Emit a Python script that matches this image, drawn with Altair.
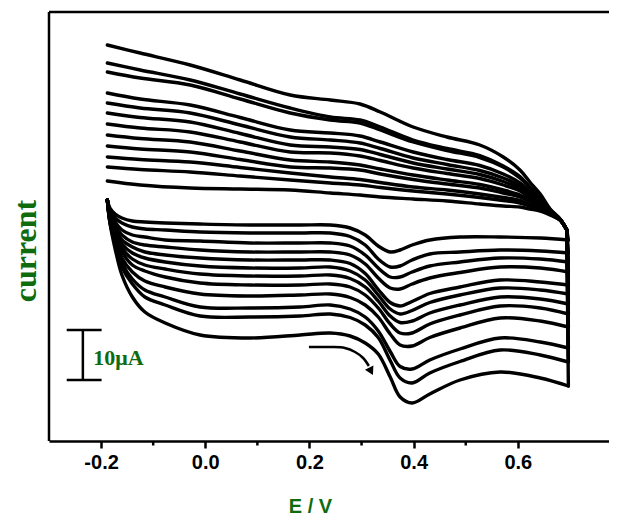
import altair as alt
import pandas as pd

# Potential grid (V) for the forward (lower) and reverse (upper) branches;
# the last two forward values are the end of the sweep and the switching vertex
E_FWD = [-0.188, -0.183, -0.173, -0.160, -0.140, -0.116, -0.077, -0.010, 0.086, 0.182,
         0.240, 0.278, 0.307, 0.332, 0.355, 0.374, 0.397, 0.431, 0.489, 0.566,
         0.643, 0.697, 0.694]
E_REV = [0.681, 0.662, 0.643, 0.623, 0.604, 0.572, 0.527, 0.464, 0.399, 0.336,
         0.297, 0.240, 0.163, 0.067, -0.029, -0.125, -0.188]

# Currents (uA, arbitrary offset) for each cycle, forward branch
c01_fwd = [-40.0, -41.6, -42.8, -43.6, -44.2, -44.4, -44.6, -44.8, -45.0, -45.0, -45.0, -45.6, -47.0, -49.2, -50.4, -50.0, -49.0, -48.0, -47.4, -47.4, -47.6, -48.0, -46.0]
c02_fwd = [-40.0, -42.0, -43.6, -44.6, -45.4, -45.8, -46.0, -46.4, -46.6, -46.6, -46.6, -47.3, -49.0, -51.8, -53.4, -53.2, -52.0, -50.8, -50.4, -50.0, -50.2, -50.6, -46.0]
c03_fwd = [-40.0, -42.4, -44.4, -46.0, -47.0, -47.4, -48.0, -48.2, -48.6, -48.6, -48.6, -49.2, -51.0, -53.6, -55.4, -55.4, -54.4, -53.2, -52.4, -51.6, -51.8, -52.4, -46.0]
c04_fwd = [-40.0, -43.0, -45.3, -47.0, -48.4, -49.0, -49.4, -50.0, -50.4, -50.4, -50.4, -51.0, -52.8, -55.6, -57.6, -57.8, -56.8, -55.6, -54.5, -53.4, -53.6, -54.4, -46.0]
c05_fwd = [-40.0, -43.2, -45.8, -48.0, -49.4, -50.4, -51.0, -51.6, -52.0, -52.0, -52.0, -52.7, -54.7, -57.9, -60.5, -61.2, -60.3, -58.7, -57.4, -56.0, -56.4, -57.0, -46.0]
c06_fwd = [-40.0, -43.4, -46.4, -48.8, -50.6, -51.6, -52.4, -53.2, -53.6, -53.6, -53.4, -54.2, -56.0, -59.0, -61.8, -62.8, -62.1, -60.5, -59.0, -57.6, -58.0, -58.8, -46.0]
c07_fwd = [-40.0, -43.6, -46.8, -49.6, -51.8, -53.0, -53.8, -54.8, -55.2, -55.2, -55.0, -55.7, -57.4, -60.2, -63.2, -64.5, -64.2, -62.6, -61.0, -59.4, -59.8, -60.8, -46.0]
c08_fwd = [-40.0, -43.8, -47.4, -50.4, -53.0, -54.2, -55.4, -56.6, -57.0, -57.0, -56.8, -57.4, -59.0, -61.6, -64.8, -66.6, -66.6, -64.8, -63.0, -61.2, -61.6, -62.8, -46.0]
c09_fwd = [-40.0, -44.0, -47.8, -51.6, -54.4, -56.2, -57.4, -58.8, -59.2, -59.0, -58.8, -59.5, -61.0, -63.4, -66.8, -69.0, -69.2, -67.5, -65.6, -63.6, -64.2, -65.4, -46.0]
c10_fwd = [-40.0, -44.4, -48.6, -52.6, -55.8, -58.0, -59.4, -61.4, -61.6, -61.4, -61.0, -61.8, -63.4, -66.2, -70.3, -73.3, -73.8, -72.0, -69.8, -67.6, -68.4, -69.6, -46.0]
c11_fwd = [-40.0, -44.4, -48.8, -53.4, -56.8, -59.4, -61.0, -63.2, -63.4, -63.2, -62.8, -63.5, -65.0, -67.5, -72.1, -75.6, -76.6, -74.6, -72.3, -70.0, -71.0, -72.4, -46.0]
c12_fwd = [-40.0, -44.6, -49.8, -55.0, -59.4, -62.4, -64.6, -67.0, -67.6, -67.0, -66.6, -67.2, -68.6, -70.8, -75.4, -79.4, -80.6, -78.8, -76.0, -74.4, -75.6, -77.2, -46.0]

# Reverse branch
c01_rev = [-44.0, -43.0, -42.2, -41.8, -41.4, -41.2, -40.8, -40.2, -39.8, -39.4, -39.0, -38.6, -38.0, -37.8, -37.6, -37.0, -36.2]
c02_rev = [-44.0, -42.9, -41.8, -41.2, -40.6, -40.1, -39.5, -38.8, -38.2, -37.5, -37.0, -36.6, -36.0, -35.2, -34.4, -33.9, -33.4]
c03_rev = [-44.0, -42.8, -41.6, -40.9, -40.1, -39.5, -38.8, -38.0, -37.4, -36.5, -35.9, -35.4, -34.6, -33.5, -32.4, -31.9, -31.4]
c04_rev = [-43.9, -42.7, -41.3, -40.3, -39.4, -38.6, -37.6, -36.8, -35.9, -34.8, -34.0, -33.6, -33.4, -31.9, -30.4, -29.8, -29.2]
c05_rev = [-43.9, -42.6, -41.1, -40.0, -39.0, -38.0, -36.9, -36.0, -35.0, -33.8, -33.0, -32.4, -32.0, -30.2, -28.4, -27.7, -27.0]
c06_rev = [-43.9, -42.5, -40.7, -39.5, -38.2, -37.0, -35.7, -34.7, -33.6, -32.1, -31.2, -30.6, -30.4, -28.4, -26.4, -25.6, -24.8]
c07_rev = [-43.9, -42.4, -40.5, -39.1, -37.7, -36.3, -34.9, -33.8, -32.6, -30.9, -29.9, -29.4, -29.0, -26.7, -24.4, -23.5, -22.6]
c08_rev = [-43.9, -42.3, -40.3, -38.7, -37.2, -35.6, -34.1, -32.9, -31.6, -29.7, -28.6, -28.0, -27.4, -25.0, -22.6, -21.6, -20.6]
c09_rev = [-43.9, -42.2, -40.0, -38.3, -36.6, -34.8, -33.1, -31.9, -30.4, -28.4, -27.2, -26.6, -26.0, -23.5, -21.0, -19.8, -18.6]
c10_rev = [-43.8, -42.0, -39.5, -37.5, -35.6, -33.4, -31.5, -30.1, -28.4, -26.0, -24.6, -24.0, -22.6, -19.8, -17.0, -15.6, -14.4]
c11_rev = [-43.8, -42.0, -39.4, -37.4, -35.3, -33.2, -31.1, -29.7, -28.0, -25.4, -24.0, -23.4, -21.6, -18.8, -16.0, -14.0, -12.6]
c12_rev = [-43.8, -41.8, -38.8, -36.4, -34.0, -31.4, -29.0, -27.4, -25.4, -22.4, -20.8, -20.0, -19.0, -16.0, -13.0, -10.6, -9.0]

FWD = [c01_fwd, c02_fwd, c03_fwd, c04_fwd, c05_fwd, c06_fwd,
       c07_fwd, c08_fwd, c09_fwd, c10_fwd, c11_fwd, c12_fwd]
REV = [c01_rev, c02_rev, c03_rev, c04_rev, c05_rev, c06_rev,
       c07_rev, c08_rev, c09_rev, c10_rev, c11_rev, c12_rev]

MAJOR_TICKS = [-0.2, 0.0, 0.2, 0.4, 0.6]
MINOR_TICKS = [-0.1, 0.1, 0.3, 0.5]

# Scale bar (10 uA) and annotation
BAR_E1 = [-0.235, -0.266, -0.266]
BAR_E2 = [-0.235, -0.199, -0.199]
BAR_I1 = [-66.0, -66.0, -76.0]
BAR_I2 = [-76.0, -66.0, -76.0]
BAR_LABEL = "10\u03bcA"
BAR_LABEL_E = -0.215
BAR_LABEL_I = -73.0

ARROW_E = [0.199, 0.240, 0.268, 0.2875, 0.303, 0.314]
ARROW_I = [-69.4, -69.4, -69.6, -70.4, -71.6, -73.2]
HEAD_E = [0.317]
HEAD_I = [-74.0]

smooth_rows, vert_rows = [], []
for k, (f, r) in enumerate(zip(FWD, REV), start=1):
    # forward sweep up to its end point (smooth)
    for i, (e, cur) in enumerate(zip(E_FWD[:-1], f[:-1])):
        smooth_rows.append({"path": f"{k}f", "i": i, "E": e, "I": cur})
    # switching edge: end of sweep -> vertex (straight)
    for i, (e, cur) in enumerate(zip(E_FWD[-2:], f[-2:])):
        vert_rows.append({"path": f"{k}v", "i": i, "E": e, "I": cur})
    # reverse sweep from the vertex (smooth)
    rev_seq = [(E_FWD[-1], f[-1])] + list(zip(E_REV, r))
    for i, (e, cur) in enumerate(rev_seq):
        smooth_rows.append({"path": f"{k}r", "i": i, "E": e, "I": cur})
df = pd.DataFrame(smooth_rows)
df_v = pd.DataFrame(vert_rows)

GREEN = "#0e6b0e"
W, H = 560, 429
XDOM = [-0.3, 0.775]
YDOM = [-88.2, -2.4]
xscale = alt.Scale(domain=XDOM, nice=False, zero=False)
yscale = alt.Scale(domain=YDOM, nice=False, zero=False)

label_expr = "datum.value < 0 ? '-' + format(-datum.value, '.1f') : format(datum.value, '.1f')"

curves = alt.Chart(df).mark_line(
    color="black", strokeWidth=3.4, strokeJoin="round", strokeCap="round",
    interpolate="catmull-rom"
).encode(
    x=alt.X("E:Q", scale=xscale, axis=alt.Axis(
        values=MAJOR_TICKS, labelExpr=label_expr, tickSize=7, tickWidth=2.5,
        tickColor="black", domainWidth=2.5, domainColor="black", grid=False,
        labelFont="Liberation Sans", labelFontSize=20, labelFontWeight="bold",
        labelColor="black", labelPadding=4, orient="bottom",
        title="E / V", titleFont="Liberation Sans", titleFontSize=20,
        titleFontWeight="bold", titleColor=GREEN, titleX=261, titleY=71,
        titleBaseline="alphabetic", titleAlign="center")),
    y=alt.Y("I:Q", scale=yscale, axis=None),
    detail="path:N",
    order="i:Q",
)

edges = alt.Chart(df_v).mark_line(
    color="black", strokeWidth=3.4, strokeJoin="round", strokeCap="round"
).encode(
    x=alt.X("E:Q", scale=xscale, axis=None),
    y=alt.Y("I:Q", scale=yscale, axis=None),
    detail="path:N",
    order="i:Q",
)

minor = alt.Chart(pd.DataFrame({"E": MINOR_TICKS})).mark_rule(
    color="black", strokeWidth=2.5
).encode(
    x=alt.X("E:Q", scale=xscale, axis=None),
    y=alt.value(H), y2=alt.value(H + 4.5),
)

frame = alt.Chart(pd.DataFrame({"a": [0]}))
top_line = frame.mark_rule(color="black", strokeWidth=2.5).encode(
    x=alt.value(0), x2=alt.value(W), y=alt.value(0))
left_line = frame.mark_rule(color="black", strokeWidth=2.5).encode(
    x=alt.value(0), y=alt.value(0), y2=alt.value(H))
y_title = frame.mark_text(
    text="current", font="Liberation Serif", fontSize=32, fontWeight="bold",
    color=GREEN, angle=270, align="center", baseline="alphabetic"
).encode(x=alt.value(-13), y=alt.value(239))

bar_df = pd.DataFrame({"E1": BAR_E1, "E2": BAR_E2, "I1": BAR_I1, "I2": BAR_I2})
bar = alt.Chart(bar_df).mark_rule(color="black", strokeWidth=2.5).encode(
    x=alt.X("E1:Q", scale=xscale, axis=None), x2="E2:Q",
    y=alt.Y("I1:Q", scale=yscale, axis=None), y2="I2:Q",
)

bar_text = alt.Chart(pd.DataFrame({"E": [BAR_LABEL_E], "I": [BAR_LABEL_I], "t": [BAR_LABEL]})).mark_text(
    font="Liberation Serif", fontSize=22, fontWeight="bold", color=GREEN,
    align="left", baseline="alphabetic"
).encode(
    x=alt.X("E:Q", scale=xscale, axis=None),
    y=alt.Y("I:Q", scale=yscale, axis=None),
    text="t:N",
)

arrow_df = pd.DataFrame({"E": ARROW_E, "I": ARROW_I, "i": list(range(len(ARROW_E)))})
arrow = alt.Chart(arrow_df).mark_line(
    color="black", strokeWidth=2.5, interpolate="catmull-rom"
).encode(
    x=alt.X("E:Q", scale=xscale, axis=None),
    y=alt.Y("I:Q", scale=yscale, axis=None),
    order="i:Q",
)
head = alt.Chart(pd.DataFrame({"E": HEAD_E, "I": HEAD_I})).mark_point(
    shape="triangle", angle=153, size=90, filled=True, color="black", opacity=1
).encode(
    x=alt.X("E:Q", scale=xscale, axis=None),
    y=alt.Y("I:Q", scale=yscale, axis=None),
)

chart = alt.layer(
    curves, edges, minor, top_line, left_line, y_title, bar, bar_text, arrow, head
).resolve_axis(x="independent", y="independent").properties(
    width=W, height=H,
    autosize=alt.AutoSizeParams(type="none"),
    padding={"left": 41, "top": 4, "right": 0, "bottom": 74},
    background="white",
).configure_view(strokeWidth=0)

chart.save("out.html", embed_options={"renderer": "svg", "actions": False})
